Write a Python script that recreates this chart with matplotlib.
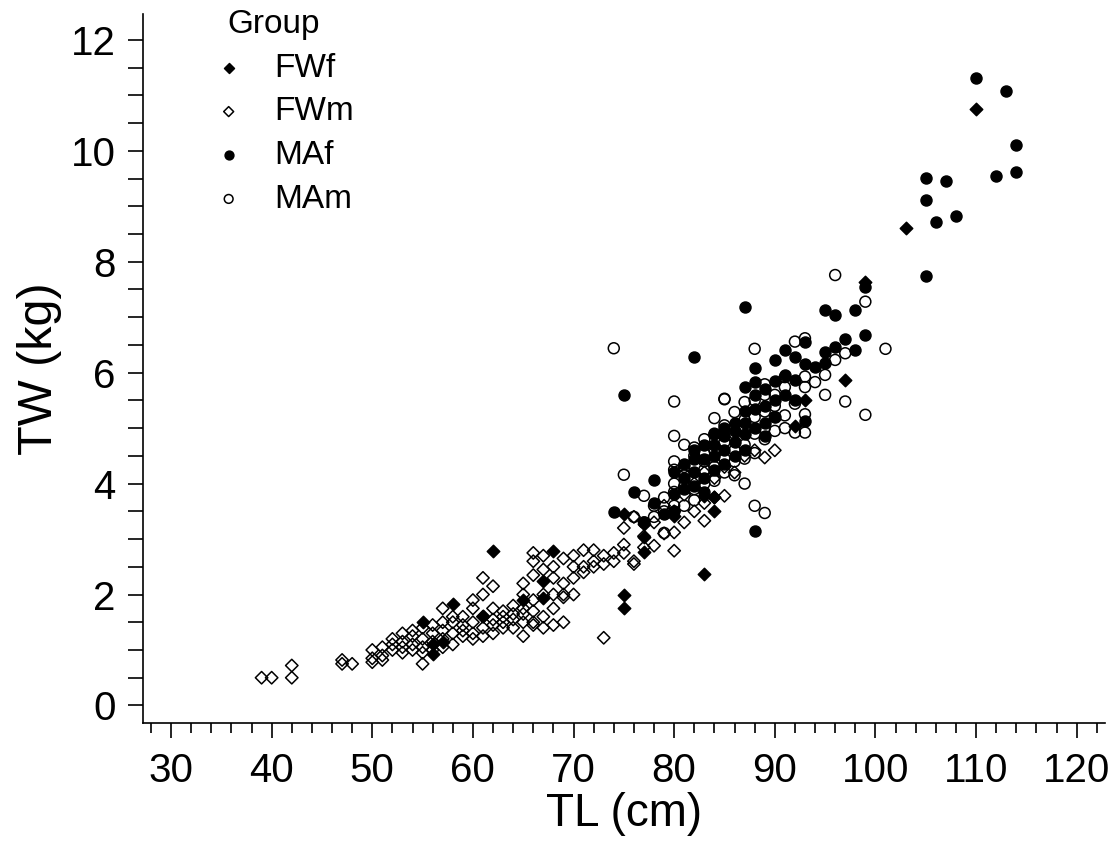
import matplotlib
matplotlib.use("Agg")
import matplotlib.pyplot as plt
from matplotlib.ticker import MultipleLocator

plt.rcParams['font.family'] = ['Liberation Sans', 'DejaVu Sans']

# FWf - freshwater females
fwf_tl = [55, 56, 56, 57, 58, 61, 62, 65, 67, 67, 68,
          75, 75, 75, 77, 77, 77, 80, 83, 83, 84, 84, 92, 93, 97, 99, 103, 110]
fwf_tw = [1.5, 0.92, 1.1, 1.14, 1.83, 1.62, 2.78, 1.9, 2.25, 1.93, 2.78,
          3.45, 2.0, 1.75, 3.27, 3.03, 2.76, 3.42, 3.78, 2.37, 3.75, 3.51, 5.04, 5.5, 5.86, 7.63, 8.61, 10.76]

# FWm - freshwater males
fwm_tl = [39, 40, 42, 42, 47, 47, 48,
          50, 50, 50, 51, 51, 51, 52, 52, 52, 53, 53, 53, 53,
          54, 54, 54, 54, 55, 55, 55, 55, 55, 56, 56, 56, 56,
          57, 57, 57, 57, 57, 58, 58, 58, 58, 59, 59, 59, 59,
          60, 60, 60, 60, 60, 61, 61, 61, 61, 61, 62, 62, 62, 62, 62,
          63, 63, 63, 63, 64, 64, 64, 64, 65, 65, 65, 65, 65, 65,
          66, 66, 66, 66, 66, 66, 66, 67, 67, 67, 67, 67,
          68, 68, 68, 68, 68, 69, 69, 69, 69, 69, 70, 70, 70, 70,
          71, 71, 71, 72, 72, 72, 73, 73, 73, 74, 74, 75, 75, 75,
          76, 76, 76, 77, 77, 78, 78, 79, 79, 80, 80, 80, 81, 81, 82, 82,
          83, 83, 83, 84, 84, 85, 85, 86, 87, 88, 89, 90]
fwm_tw = [0.5, 0.5, 0.72, 0.5, 0.82, 0.75, 0.75,
          0.78, 0.85, 1.0, 0.9, 1.05, 0.82, 1.0, 1.1, 1.2, 1.05, 1.15, 1.3, 0.95,
          1.1, 1.25, 1.0, 1.35, 0.75, 0.95, 1.2, 1.4, 1.05, 1.0, 1.3, 1.45, 1.15,
          1.75, 1.2, 1.5, 1.35, 1.05, 1.3, 1.5, 1.1, 1.6, 1.45, 1.25, 1.6, 1.35,
          1.3, 1.75, 1.5, 1.9, 1.2, 2.3, 1.4, 1.6, 1.25, 2.0, 1.3, 1.55, 1.75, 2.15, 1.45,
          1.5, 1.7, 1.4, 1.6, 1.55, 1.8, 1.65, 1.4, 1.25, 1.5, 1.75, 2.0, 2.2, 1.65,
          1.5, 1.7, 1.9, 1.45, 2.75, 2.6, 2.35, 1.4, 1.6, 2.45, 2.0, 2.7,
          1.45, 1.75, 2.0, 2.3, 2.5, 2.0, 2.2, 1.95, 2.65, 1.5, 2.0, 2.3, 2.5, 2.7,
          2.4, 2.8, 2.5, 2.6, 2.5, 2.8, 1.22, 2.7, 2.55, 2.6, 2.75, 2.9, 3.2, 2.75,
          2.55, 2.6, 3.4, 2.85, 3.05, 3.3, 2.88, 3.1, 3.6, 2.79, 3.12, 3.5, 3.3, 3.8, 3.5, 4.0,
          3.33, 3.65, 4.2, 3.75, 4.1, 3.78, 4.3, 4.2, 4.5, 4.6, 4.47, 4.6]

# MAf - marine females
maf_tl = [74, 75, 76, 77, 78, 78, 79, 80, 80, 80, 81, 81, 81,
          82, 82, 82, 82, 82, 83, 83, 83, 83, 84, 84, 84, 84, 85, 85, 85, 85,
          86, 86, 86, 86, 87, 87, 87, 87, 87, 87, 88, 88, 88, 88, 88, 88,
          89, 89, 89, 89, 90, 90, 90, 90, 91, 91, 91, 92, 92, 92, 93, 93, 93,
          94, 95, 95, 95, 96, 96, 97, 98, 98, 99, 99,
          105, 105, 105, 106, 107, 108, 110, 112, 113, 114, 114]
maf_tw = [3.48, 5.59, 3.84, 3.3, 4.07, 3.65, 3.45, 3.82, 4.2, 3.5, 4.35, 3.9, 4.1,
          6.29, 4.6, 4.2, 3.95, 4.45, 4.45, 4.1, 4.7, 3.85, 4.9, 4.5, 4.25, 4.7, 5.0, 4.6, 4.35, 4.85,
          5.1, 4.75, 4.5, 4.95, 7.19, 5.75, 5.3, 4.9, 4.6, 5.1, 6.08, 5.83, 5.59, 5.35, 5.0, 3.15,
          5.4, 5.1, 4.85, 5.7, 6.23, 5.85, 5.5, 5.2, 6.41, 5.96, 5.6, 6.29, 5.87, 5.5, 6.15, 5.12, 6.55,
          6.1, 7.13, 6.38, 6.17, 7.04, 6.46, 6.6, 7.13, 6.4, 7.54, 6.68,
          9.51, 9.12, 7.74, 8.71, 9.45, 8.83, 11.31, 9.54, 11.07, 10.11, 9.61]

# MAm - marine males
mam_tl = [74, 75, 76, 77, 77, 78, 78, 79, 79, 79,
          80, 80, 80, 80, 80, 80, 80, 81, 81, 81, 81, 81, 82, 82, 82, 82, 82,
          83, 83, 83, 83, 83, 84, 84, 84, 84, 84, 85, 85, 85, 85, 85, 85,
          86, 86, 86, 86, 86, 87, 87, 87, 87, 87, 87, 88, 88, 88, 88, 88, 88,
          89, 89, 89, 89, 89, 89, 90, 90, 90, 90, 91, 91, 91, 91, 92, 92, 92,
          93, 93, 93, 93, 93, 94, 95, 95, 96, 96, 97, 97, 99, 99, 101]
mam_tw = [6.44, 4.16, 3.4, 3.78, 3.3, 3.4, 3.6, 3.11, 3.5, 3.75,
          5.48, 4.86, 4.25, 3.85, 3.6, 4.0, 4.4, 4.7, 4.3, 3.95, 3.6, 4.15, 4.5, 4.1, 3.7, 3.9, 4.65,
          4.8, 4.4, 4.55, 4.0, 4.25, 5.18, 4.6, 4.3, 4.9, 4.05, 5.52, 5.05, 4.75, 4.45, 4.2, 5.53,
          5.29, 4.9, 4.6, 4.4, 4.15, 5.47, 5.0, 4.7, 4.45, 4.0, 5.15, 6.43, 5.2, 4.9, 4.55, 3.6, 5.5,
          5.79, 5.3, 5.0, 4.8, 3.47, 5.6, 5.6, 5.2, 4.95, 5.4, 5.92, 5.74, 5.23, 5.0, 6.56, 5.44, 4.92,
          6.62, 5.93, 5.74, 4.92, 5.25, 5.83, 5.96, 5.6, 6.23, 7.76, 6.35, 5.48, 7.28, 5.24, 6.43]

fig = plt.figure(figsize=(11.16, 8.63), dpi=100)
ax = fig.add_axes([0.128, 0.162, 0.862, 0.822])

kw = dict(linewidths=1.1, edgecolors='black')
h1 = ax.scatter(fwf_tl, fwf_tw, marker='D', s=40, c='black', label='FWf', **kw)
h2 = ax.scatter(fwm_tl, fwm_tw, marker='D', s=40, facecolors='none', label='FWm', **kw)
h3 = ax.scatter(maf_tl, maf_tw, marker='o', s=62, c='black', label='MAf', **kw)
h4 = ax.scatter(mam_tl, mam_tw, marker='o', s=62, facecolors='none', label='MAm', **kw)

ax.set_xlim(27.2, 122.8)
ax.set_ylim(-0.32, 12.47)
ax.spines['top'].set_visible(False)
ax.spines['right'].set_visible(False)
ax.spines['left'].set_linewidth(1.2)
ax.spines['bottom'].set_linewidth(1.2)

ax.set_xticks(range(30, 121, 10))
ax.set_yticks(range(0, 13, 2))
ax.xaxis.set_minor_locator(MultipleLocator(2))
ax.yaxis.set_minor_locator(MultipleLocator(0.5))
ax.tick_params(which='major', length=10.5, width=1.2, labelsize=29)
ax.tick_params(which='minor', length=7, width=1.2)
ax.tick_params(axis='y', which='minor', length=10.5)
ax.tick_params(axis='x', pad=10)
ax.tick_params(axis='y', pad=9)

ax.set_xlabel('TL (cm)', fontsize=33, labelpad=2)
ax.set_ylabel('TW (kg)', fontsize=35, labelpad=6)

leg = ax.legend(handles=[h1, h2, h3, h4], title='Group', loc='upper left',
                bbox_to_anchor=(227 / 1116, 1 - 9 / 863), bbox_transform=fig.transFigure,
                frameon=False, fontsize=24, title_fontsize=24, borderpad=0,
                borderaxespad=0, handlelength=0.1, handletextpad=1.31,
                labelspacing=0.38, markerscale=0.8, alignment='left')

fig.savefig('out.png', dpi=100)
